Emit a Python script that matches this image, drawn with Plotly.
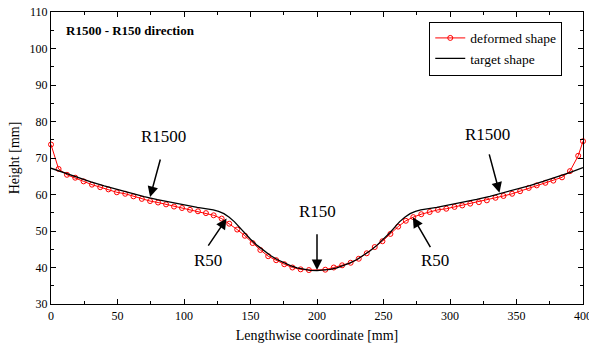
import plotly.graph_objects as go

# ---------------- data ----------------
target_x = [0, 10, 20, 30, 40, 50, 60, 70, 80, 90, 100, 110, 122, 126, 130, 134, 138, 140,
            145, 150, 155, 160, 165, 170, 175, 180, 185, 190, 195, 200,
            205, 210, 215, 220, 225, 230, 235, 240, 245, 250, 255, 260, 262, 266, 270, 274,
            278, 290, 300, 310, 320, 330, 340, 350, 360, 370, 380, 390, 400]
target_y = [67.2, 65.89, 64.65, 63.48, 62.37, 61.33, 60.35, 59.44, 58.60, 57.83, 57.12, 56.48,
            55.8, 55.4, 54.75, 53.75, 52.5, 51.67,
            49.6, 47.73, 46.06, 44.58, 43.29, 42.18, 41.25, 40.49, 39.9, 39.49, 39.23, 39.15,
            39.23, 39.49, 39.9, 40.49, 41.25, 42.18, 43.29, 44.58, 46.06, 47.73, 49.6, 51.67,
            52.5, 53.75, 54.75, 55.4, 55.8, 56.5, 57.15, 57.87, 58.65, 59.5, 60.42, 61.4,
            62.45, 63.57, 64.75, 66.0, 67.4]

deformed_x = [0, 5.7, 12, 18.2, 24.5, 30.8, 37, 43.2, 49.5, 55.8, 62, 68.3, 74.5, 80.5, 86.5,
              92.5, 98.5, 104.5, 110.5, 116.5, 122.3, 128.3, 134, 140, 145.8, 151.6, 157.4,
              163.3, 169.3, 175.4, 181.5, 187.7, 193.9, 206.2, 212.6, 218.9, 225.3, 231.4,
              237.4, 243.4, 249.2, 255.2, 261, 266.8, 272.4, 278.4, 284.7, 290.9, 297.2,
              303.4, 309.2, 315.2, 321.7, 327.7, 334.2, 340.2, 346.7, 352.7, 359.2, 365.2,
              371.7, 377.7, 384.2, 390.2, 396.4, 400]
deformed_y = [73.7, 67.0, 65.4, 64.6, 63.6, 62.7, 62.0, 61.4, 60.6, 60.2, 59.5, 58.8, 58.2,
              57.8, 57.3, 56.7, 56.3, 55.8, 55.4, 54.9, 54.3, 53.4, 52.0, 50.4, 48.7, 46.7,
              44.8, 43.1, 42.0, 40.9, 40.0, 39.5, 39.3, 39.4, 40.0, 40.6, 41.3, 42.4, 43.9,
              45.6, 47.2, 49.2, 51.2, 52.8, 53.8, 54.6, 55.2, 55.8, 56.1, 56.6, 57.0, 57.5,
              57.9, 58.4, 59.1, 59.6, 60.2, 60.9, 61.8, 62.5, 63.2, 63.8, 64.7, 66.4, 70.6,
              74.6]

series_names = ["deformed shape", "target shape"]
x_ticks = [0, 50, 100, 150, 200, 250, 300, 350, 400]
y_ticks = [30, 40, 50, 60, 70, 80, 90, 100, 110]

title_text = "R1500 - R150 direction"
# (label, label_x, label_y, tail_x, tail_y, tip_x, tip_y)
callouts = [
    ("R1500", 84.5, 75.9, 82.5, 70.0, 74.5, 59.3),
    ("R50", 117.7, 42.0, 117.5, 45.6, 132.0, 53.4),
    ("R150", 200.2, 55.4, 200.0, 49.5, 200.0, 39.3),
    ("R50", 288.4, 42.0, 285.9, 45.2, 272.1, 53.8),
    ("R1500", 328.2, 76.4, 329.2, 71.4, 337.2, 60.5),
]

FONT = "Liberation Serif"

fig = go.Figure()
fig.add_trace(go.Scatter(
    x=deformed_x, y=deformed_y, name=series_names[0], mode="lines+markers",
    line=dict(color="#ff0000", width=1),
    marker=dict(symbol="circle-open", size=5, color="#ff0000", line=dict(width=1)),
    cliponaxis=False,
))
fig.add_trace(go.Scatter(
    x=target_x, y=target_y, name=series_names[1], mode="lines",
    line=dict(color="black", width=1.3),
))

annotations = [dict(
    x=10, y=104.8, xref="x", yref="y", text="<b>" + title_text + "</b>", showarrow=False,
    xanchor="left", yanchor="middle", font=dict(family=FONT, size=13, color="black"),
)]
for lab, lx, ly, tx, ty, px, py in callouts:
    annotations.append(dict(
        x=lx, y=ly, xref="x", yref="y", text=lab, showarrow=False,
        font=dict(family=FONT, size=17, color="black"), xanchor="center", yanchor="middle",
    ))
    annotations.append(dict(
        x=px, y=py, ax=tx, ay=ty, xref="x", yref="y", axref="x", ayref="y",
        text="", showarrow=True, arrowhead=2, arrowsize=1.4, arrowwidth=1.5,
        arrowcolor="black", standoff=0, startstandoff=0,
    ))

axis_common = dict(
    showline=True, linecolor="black", linewidth=1.2, mirror="allticks",
    ticks="inside", ticklen=5, tickwidth=1, tickcolor="black",
    showgrid=False, zeroline=False, automargin=False, ticklabeloverflow="allow",
    tickfont=dict(family=FONT, size=12, color="black"),
)

fig.update_layout(
    width=589, height=350,
    margin=dict(l=51, r=6, t=12, b=46, autoexpand=False),
    paper_bgcolor="white", plot_bgcolor="white",
    font=dict(family=FONT, color="black"),
    xaxis=dict(range=[0, 400], tickvals=x_ticks, ticktext=[str(v) for v in x_ticks],
               title=dict(text="Lengthwise coordinate [mm]", font=dict(family=FONT, size=14), standoff=8),
               minor=dict(dtick=25, ticks="inside", ticklen=3, tickcolor="black"),
               **axis_common),
    yaxis=dict(range=[30, 110], tickvals=y_ticks, ticktext=[str(v) for v in y_ticks],
               title=dict(text="Height [mm]", font=dict(family=FONT, size=14), standoff=6),
               minor=dict(dtick=5, ticks="inside", ticklen=3, tickcolor="black"),
               **axis_common),
    legend=dict(x=0.711, y=0.967, xanchor="left", yanchor="top",
                bordercolor="black", borderwidth=1, bgcolor="white",
                font=dict(family=FONT, size=13.5, color="black"),
                tracegroupgap=0, itemwidth=30),
    showlegend=True,
    annotations=annotations,
)

fig.write_html("out.html", config={"displayModeBar": False},
               post_script="document.body.style.margin='0';")
